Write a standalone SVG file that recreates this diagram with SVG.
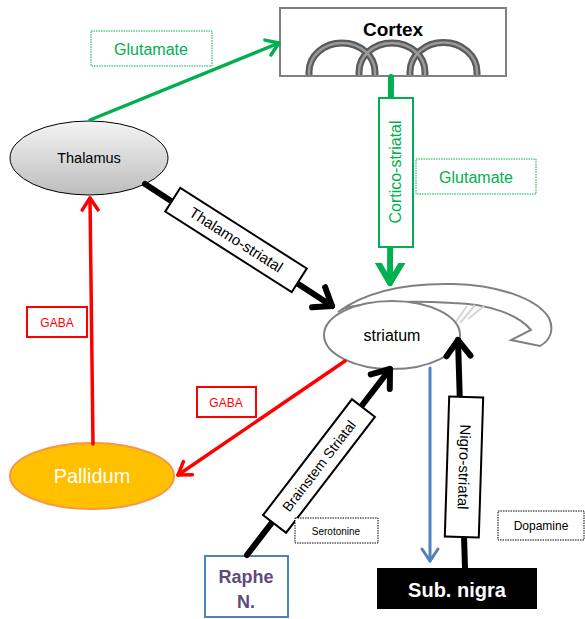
<svg xmlns="http://www.w3.org/2000/svg" width="585" height="619" viewBox="0 0 585 619">
  <style>
    text { font-family: "Liberation Sans", Arial, sans-serif; text-anchor: middle; }
    .lbl-green { fill: #00b050; font-size: 16px; }
    .lbl-red { fill: #ff0000; font-size: 12px; }
    .tag { fill: #fff; stroke-dasharray: 1.5 1; stroke-width: 1; }
    .path-box { fill: #fff; stroke-width: 2; }
    .arch { fill: none; stroke: #5a5a5a; stroke-width: 7; }
    .arch-hi { fill: none; stroke: #9a9a9a; stroke-width: 2.5; }
  </style>
  <defs>
    <linearGradient id="thal-fill" x1="0" y1="0" x2="0" y2="1">
      <stop offset="0" stop-color="#f4f4f4"/>
      <stop offset="1" stop-color="#bdbdbd"/>
    </linearGradient>
    <marker id="ah-black" markerUnits="userSpaceOnUse" markerWidth="40" markerHeight="40" viewBox="-20 -20 40 40" orient="auto">
      <path d="M-16,-12 L0,0 L-16,12" fill="none" stroke="#000" stroke-width="6" stroke-linecap="round" stroke-linejoin="round"/>
    </marker>
    <marker id="ah-green-big" markerUnits="userSpaceOnUse" markerWidth="40" markerHeight="40" viewBox="-20 -20 40 40" orient="auto">
      <path d="M-22,-13 L0,0 L-22,13" fill="none" stroke="#00b050" stroke-width="6" stroke-linecap="round" stroke-linejoin="round"/>
    </marker>
    <marker id="ah-green" markerUnits="userSpaceOnUse" markerWidth="40" markerHeight="40" viewBox="-20 -20 40 40" orient="auto">
      <path d="M-12,-8 L0,0 L-12,8" fill="none" stroke="#00b050" stroke-width="3.5" stroke-linecap="round" stroke-linejoin="round"/>
    </marker>
    <marker id="ah-red" markerUnits="userSpaceOnUse" markerWidth="40" markerHeight="40" viewBox="-20 -20 40 40" orient="auto">
      <path d="M-12,-8 L0,0 L-12,8" fill="none" stroke="#ff0000" stroke-width="3.5" stroke-linecap="round" stroke-linejoin="round"/>
    </marker>
    <marker id="ah-blue" markerUnits="userSpaceOnUse" markerWidth="40" markerHeight="40" viewBox="-20 -20 40 40" orient="auto">
      <path d="M-12,-8 L0,0 L-12,8" fill="none" stroke="#4f81bd" stroke-width="3" stroke-linecap="round" stroke-linejoin="round"/>
    </marker>
  </defs>

  <rect width="585" height="619" fill="#fff"/>

  <!-- cortex -->
  <g id="cortex">
    <rect x="280" y="8" width="226" height="68" fill="#fff" stroke="#808080" stroke-width="2"/>
    <text x="393" y="36" font-size="19" font-weight="bold" fill="#000">Cortex</text>
    <path class="arch" d="M309,75 L309,72 A33,29 0 0 1 375,72 L375,75"/>
    <path class="arch" d="M359,75 L359,72 A33,29 0 0 1 425,72 L425,75"/>
    <path class="arch" d="M410,75 L410,72 A33,29 0 0 1 477,72 L477,75"/>
    <path class="arch-hi" d="M309,75 L309,72 A33,29 0 0 1 375,72 L375,75"/>
    <path class="arch-hi" d="M359,75 L359,72 A33,29 0 0 1 425,72 L425,75"/>
    <path class="arch-hi" d="M410,75 L410,72 A33,29 0 0 1 477,72 L477,75"/>
  </g>

  <!-- striatum with its tail -->
  <g id="striatum">
    <path d="M338,312 C368,290 410,283 453,284 C497,285 537,298 549,318 C555,331 549,341 540,346 L511,340 L531,330 C518,314 488,304 453,303 C420,301 380,300 345,308 Z" fill="#fff" stroke="#808080" stroke-width="2"/>
    <g stroke="#d4d4d4" stroke-width="2">
      <line x1="453" y1="326" x2="467" y2="306"/>
      <line x1="460" y1="323" x2="475" y2="305"/>
      <line x1="468" y1="319" x2="484" y2="306"/>
    </g>
    <ellipse cx="392" cy="335" rx="68" ry="34" fill="#fff" stroke="#808080" stroke-width="2"/>
    <text x="392" y="341" font-size="16" fill="#000">striatum</text>
  </g>

  <!-- thalamus -->
  <g id="thalamus">
    <ellipse cx="89" cy="158" rx="79" ry="37" fill="url(#thal-fill)" stroke="#000" stroke-width="1"/>
    <text x="89" y="163" font-size="14.5" fill="#000">Thalamus</text>
  </g>

  <!-- pallidum -->
  <g id="pallidum">
    <ellipse cx="92" cy="476" rx="82" ry="33" fill="#ffc000" stroke="#f79646" stroke-width="2"/>
    <text x="92" y="483" font-size="20" fill="#fff">Pallidum</text>
  </g>

  <!-- raphe nuclei -->
  <g id="raphe">
    <rect x="205" y="556" width="83" height="61" fill="#fff" stroke="#4f81bd" stroke-width="2"/>
    <text x="246" y="583" font-size="18" font-weight="bold" fill="#604a7b">Raphe</text>
    <text x="246" y="608" font-size="18" font-weight="bold" fill="#604a7b">N.</text>
  </g>

  <!-- substantia nigra -->
  <g id="sub-nigra">
    <rect x="377" y="568" width="160" height="41" fill="#000"/>
    <text x="457" y="597" font-size="20" font-weight="bold" fill="#fff">Sub. nigra</text>
  </g>

  <!-- connectors -->
  <g id="connectors" fill="none" stroke-linecap="round">
    <!-- thalamus to cortex -->
    <line x1="90" y1="120" x2="279" y2="43" stroke="#00b050" stroke-width="3.5" marker-end="url(#ah-green)"/>
    <!-- cortico-striatal -->
    <line x1="391" y1="77" x2="390" y2="283" stroke="#00b050" stroke-width="6" marker-end="url(#ah-green-big)"/>
    <!-- thalamo-striatal -->
    <line x1="145" y1="184" x2="332" y2="306" stroke="#000" stroke-width="6" marker-end="url(#ah-black)"/>
    <!-- pallidum to thalamus -->
    <line x1="93" y1="444" x2="90" y2="198" stroke="#ff0000" stroke-width="3.5" marker-end="url(#ah-red)"/>
    <!-- striatum to pallidum -->
    <line x1="345" y1="361" x2="178" y2="475" stroke="#ff0000" stroke-width="3.5" marker-end="url(#ah-red)"/>
    <!-- brainstem striatal -->
    <line x1="247" y1="555" x2="390" y2="369" stroke="#000" stroke-width="6" marker-end="url(#ah-black)"/>
    <!-- nigro-striatal -->
    <line x1="465" y1="568" x2="458" y2="340" stroke="#000" stroke-width="6" marker-end="url(#ah-black)"/>
    <!-- striatum to substantia nigra -->
    <line x1="430" y1="368" x2="430" y2="561" stroke="#4f81bd" stroke-width="3" marker-end="url(#ah-blue)"/>
  </g>

  <!-- pathway and transmitter labels -->
  <g id="label-glutamate-1">
    <rect class="tag" x="91" y="31" width="121" height="35" stroke="#00b050"/>
    <text class="lbl-green" x="151" y="55">Glutamate</text>
  </g>
  <g id="label-cortico-striatal">
    <rect class="path-box" x="379" y="98" width="34" height="149" stroke="#00b050"/>
    <text class="lbl-green" font-size="15" transform="translate(401,172) rotate(-90)">Cortico-striatal</text>
  </g>
  <g id="label-glutamate-2">
    <rect class="tag" x="416" y="159" width="120" height="35" stroke="#00b050"/>
    <text class="lbl-green" x="476" y="183">Glutamate</text>
  </g>
  <g id="label-thalamo-striatal" transform="translate(236,240) rotate(32.5)">
    <rect class="path-box" x="-75" y="-14" width="150" height="28" stroke="#000"/>
    <text x="0" y="5" font-size="15" fill="#000">Thalamo-striatal</text>
  </g>
  <g id="label-gaba-1">
    <rect x="27" y="307" width="60" height="30" fill="#fff" stroke="#ff0000" stroke-width="2"/>
    <text class="lbl-red" x="57" y="327">GABA</text>
  </g>
  <g id="label-gaba-2">
    <rect x="197" y="387" width="59" height="30" fill="#fff" stroke="#ff0000" stroke-width="2"/>
    <text class="lbl-red" x="226" y="407">GABA</text>
  </g>
  <g id="label-brainstem-striatal" transform="translate(319,466) rotate(-52.5)">
    <rect class="path-box" x="-73" y="-14.5" width="146" height="29" stroke="#000"/>
    <text x="0" y="5" font-size="14" fill="#000">Brainstem Striatal</text>
  </g>
  <g id="label-serotonine">
    <rect class="tag" x="295" y="518" width="83" height="25" stroke="#000"/>
    <text x="336" y="535" font-size="10" fill="#000">Serotonine</text>
  </g>
  <g id="label-nigro-striatal" transform="translate(464,467) rotate(91.8)">
    <rect class="path-box" x="-70" y="-17" width="140" height="34" stroke="#000"/>
    <text x="0" y="5" font-size="15" fill="#000">Nigro-striatal</text>
  </g>
  <g id="label-dopamine">
    <rect class="tag" x="498" y="511" width="86" height="29" stroke="#000"/>
    <text x="541" y="530" font-size="12" fill="#000">Dopamine</text>
  </g>
</svg>
